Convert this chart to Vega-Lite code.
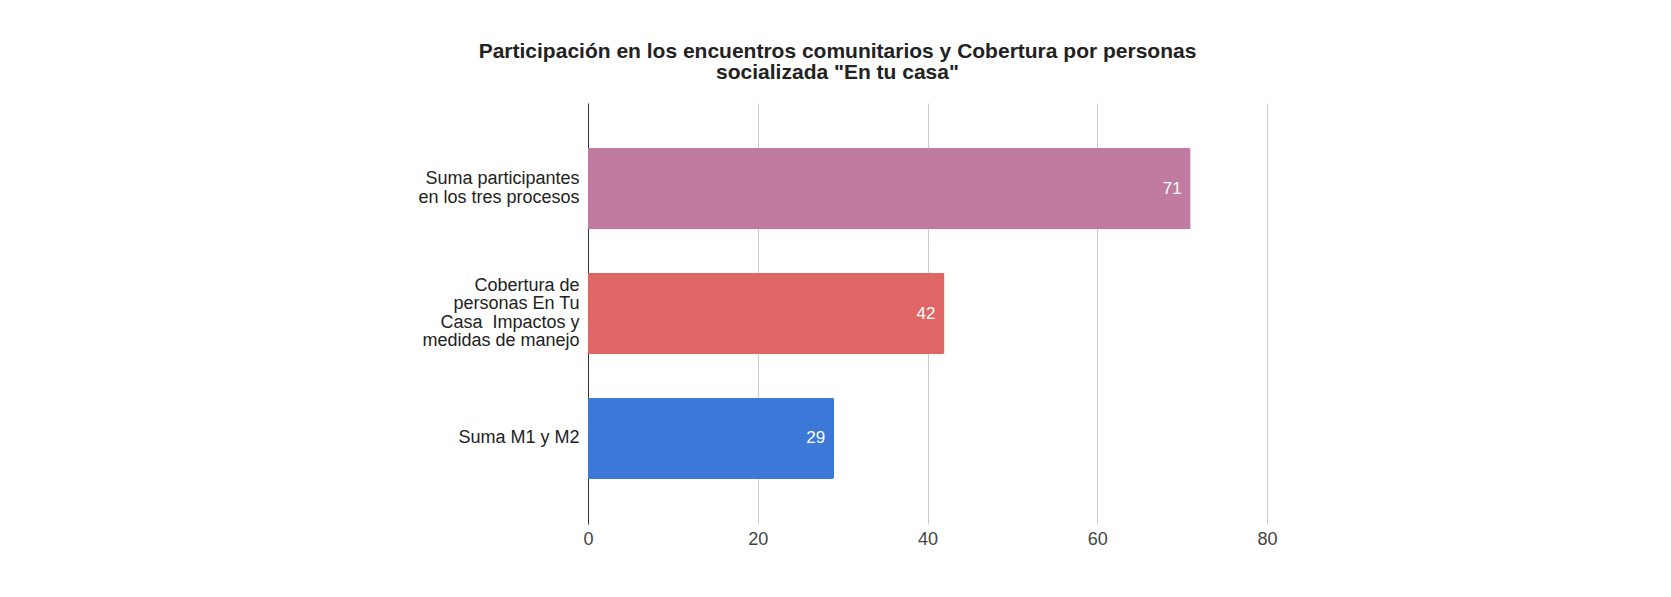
{
  "$schema": "https://vega.github.io/schema/vega-lite/v6.json",
  "autosize": {"type": "none"},
  "width": 679,
  "height": 421,
  "padding": {"left": 588, "top": 103, "right": 404, "bottom": 73},
  "background": "white",
  "title": {
    "text": ["Participación en los encuentros comunitarios y Cobertura por personas", "socializada \"En tu casa\""],
    "font": "Liberation Sans",
    "fontSize": 21,
    "fontWeight": "bold",
    "color": "#222222",
    "anchor": "middle",
    "frame": "group",
    "dx": -90,
    "offset": 20,
    "lineHeight": 21
  },
  "data": {
    "values": [
      {"categoria": "Suma participantes|en los tres procesos", "valor": 71, "color": "#C27BA0"},
      {"categoria": "Cobertura de|personas En Tu|Casa\u00a0 Impactos y|medidas de manejo", "valor": 42, "color": "#E06666"},
      {"categoria": "Suma M1 y M2", "valor": 29, "color": "#3C78D8"}
    ]
  },
  "encoding": {
    "y": {
      "field": "categoria",
      "type": "nominal",
      "sort": null,
      "scale": {"paddingInner": 0.35, "paddingOuter": 0.36},
      "axis": {
        "title": null,
        "ticks": false,
        "grid": false,
        "domainColor": "#333333",
        "domainWidth": 1,
        "labelFont": "Liberation Sans",
        "labelFontSize": 18,
        "labelColor": "#222222",
        "labelPadding": 9,
        "labelLineHeight": 18.5,
        "labelLimit": 300,
        "labelExpr": "split(datum.label, '|')",
        "labelOffset": {
          "condition": [
            {"test": "indexof(datum.value, 'Cobertura') >= 0", "value": -27.75},
            {"test": "indexof(datum.value, 'participantes') >= 0", "value": -9.25}
          ],
          "value": 0
        }
      }
    },
    "x": {
      "field": "valor",
      "type": "quantitative",
      "scale": {"domain": [0, 80], "nice": false},
      "axis": {
        "title": null,
        "values": [0, 20, 40, 60, 80],
        "domain": false,
        "ticks": false,
        "grid": true,
        "gridColor": "#cccccc",
        "labelFont": "Liberation Sans",
        "labelFontSize": 18,
        "labelColor": "#444444",
        "labelPadding": 6,
        "labelFlush": false
      }
    }
  },
  "layer": [
    {
      "mark": {"type": "bar", "cornerRadiusEnd": 2},
      "encoding": {
        "color": {"field": "color", "type": "nominal", "scale": null, "legend": null}
      }
    },
    {
      "mark": {"type": "text", "align": "right", "dx": -9, "baseline": "middle", "color": "white", "font": "Liberation Sans", "fontSize": 17},
      "encoding": {
        "text": {"field": "valor", "type": "quantitative"}
      }
    }
  ],
  "config": {
    "view": {"stroke": null}
  }
}
